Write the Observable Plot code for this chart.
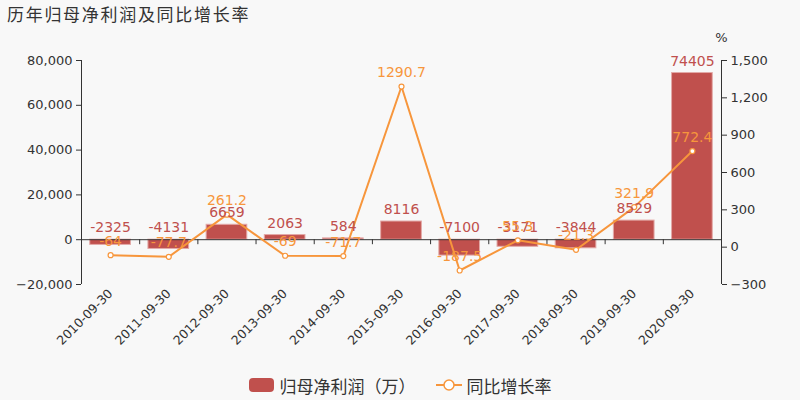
<!DOCTYPE html>
<html>
<head>
<meta charset="utf-8">
<script src="https://cdn.jsdelivr.net/npm/d3@7"></script>
<script src="https://cdn.jsdelivr.net/npm/@observablehq/plot@0.6"></script>
<style>
  html, body { margin: 0; padding: 0; background: #f8f8f8; }
  body { width: 800px; height: 400px; overflow: hidden; font-family: "DejaVu Sans", "Noto Sans CJK SC", sans-serif; color: #333; }
  #title { height: 30px; line-height: 28px; padding-left: 7px; font-size: 17px; letter-spacing: 1.7px; color: #333; font-family: "Noto Sans CJK SC", sans-serif; }
  #chart { height: 340px; }
  #legend { height: 30px; display: flex; justify-content: center; align-items: center; gap: 0; font-family: "Noto Sans CJK SC", sans-serif; font-size: 17px; color: #333; }
  .sw { display: inline-block; width: 25px; height: 14px; border-radius: 4px; background: #c0504d; margin-right: 6px; }
  .item { display: flex; align-items: center; }
</style>
</head>
<body>
<div id="title">历年归母净利润及同比增长率</div>
<div id="chart"></div>
<div id="legend">
  <div class="item"><span class="sw"></span><span>归母净利润（万）</span></div>
  <div class="item" style="margin-left:20px"><svg width="26" height="14" style="margin-right:5px"><line x1="0" y1="7" x2="26" y2="7" stroke="#f7963c" stroke-width="2"/><circle cx="13" cy="7" r="5" fill="#fff" stroke="#f7963c" stroke-width="1.5"/></svg><span>同比增长率</span></div>
</div>
<script>
const dates = ["2010-09-30","2011-09-30","2012-09-30","2013-09-30","2014-09-30","2015-09-30","2016-09-30","2017-09-30","2018-09-30","2019-09-30","2020-09-30"];
const profit = [-2325, -4131, 6659, 2063, 584, 8116, -7100, -3171, -3844, 8529, 74405];
const growth = [-64, -77.7, 261.2, -69, -71.7, 1290.7, -187.5, 55.3, -21.3, 321.9, 772.4];
const leftTicks = [-20000, 0, 20000, 40000, 60000, 80000];
const rightTicks = [-300, 0, 300, 600, 900, 1200, 1500];

const yMin = -20000, yMax = 80000, rMin = -300, rMax = 1500;
const toLeft = r => yMin + (r - rMin) * (yMax - yMin) / (rMax - rMin);
const fromLeft = v => rMin + (v - yMin) * (rMax - rMin) / (yMax - yMin);

const rows = dates.map((d, i) => ({i, date: d, profit: profit[i], growth: growth[i]}));
const bounds = d3.range(0, dates.length + 1);

const red = "#c0504d", orange = "#f7963c";
const fmt = d3.format(",");

const chart = Plot.plot({
  width: 800, height: 340,
  marginTop: 30, marginBottom: 86, marginLeft: 81, marginRight: 79,
  style: {background: "transparent", fontFamily: "DejaVu Sans, Noto Sans CJK SC, sans-serif", fontSize: "13px", color: "#333"},
  x: {type: "linear", domain: [0, dates.length]},
  y: {domain: [yMin, yMax]},
  marks: [
    Plot.axisY({ticks: leftTicks, tickFormat: fmt, tickSize: 5, tickPadding: 4, label: null, fontSize: 13}),
    Plot.axisY({anchor: "right", ticks: rightTicks.map(toLeft), tickFormat: v => fmt(Math.round(fromLeft(v))), tickSize: 5, tickPadding: 4, label: null, fontSize: 13}),
    Plot.ruleX([0, dates.length], {stroke: "#333", strokeWidth: 1}),
    Plot.axisX({ticks: rows.map(d => d.i + 0.5), tickFormat: v => dates[Math.floor(v)], tickRotate: -45, tickSize: 0, tickPadding: 7, label: null, fontSize: 12.5}),
    Plot.rectY(rows, {x1: "i", x2: d => d.i + 1, y: "profit", fill: red, stroke: "#e3a9a7", strokeWidth: 1, insetLeft: 8.75, insetRight: 8.75}),
    Plot.ruleY([0], {stroke: "#333"}),
    Plot.ruleX(bounds, {x: d => d, y1: 0, y2: -(yMax - yMin) * 5 / 224, stroke: "#333"}),
    Plot.line(rows, {x: d => d.i + 0.5, y: d => toLeft(d.growth), stroke: orange, strokeWidth: 2}),
    Plot.dot(rows, {x: d => d.i + 0.5, y: d => toLeft(d.growth), r: 2.5, fill: "#fff", stroke: orange, strokeWidth: 1.2}),
    Plot.text(rows, {x: d => d.i + 0.5, y: d => Math.max(d.profit, 0), text: d => String(d.profit), dy: -12, fill: red, fontSize: 14}),
    Plot.text(rows, {x: d => d.i + 0.5, y: d => toLeft(d.growth), text: d => String(d.growth), dy: -14, fill: orange, fontSize: 14}),
    Plot.text(["%"], {frameAnchor: "top-right", dx: 0, dy: -28, text: d => d, fill: "#333", fontSize: 13, textAnchor: "middle"})
  ]
});
document.getElementById("chart").appendChild(chart);
</script>
</body>
</html>
